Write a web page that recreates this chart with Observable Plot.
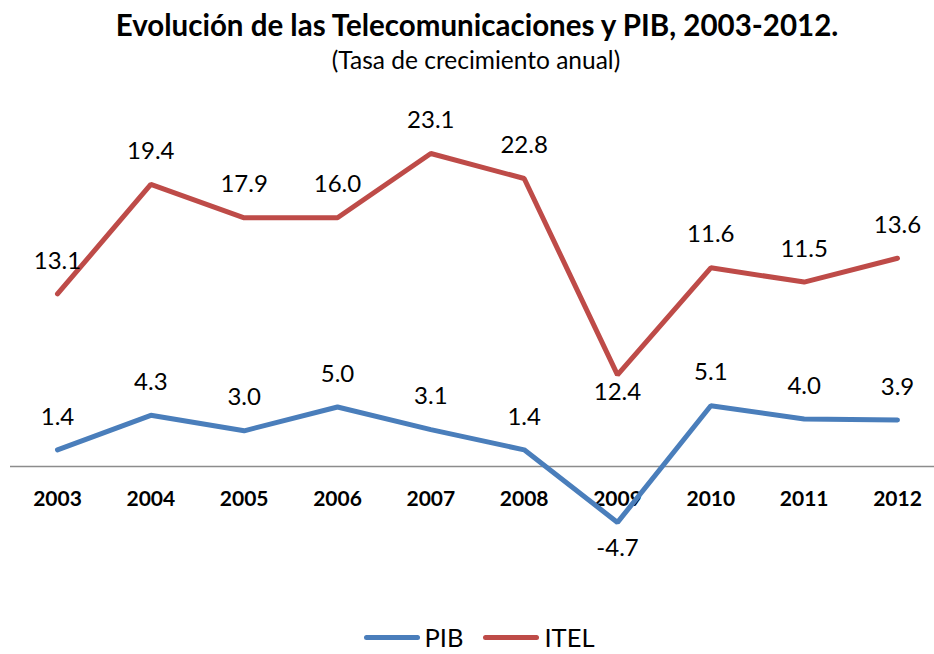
<!DOCTYPE html>
<html><head><meta charset="utf-8">
<script src="https://cdn.jsdelivr.net/npm/d3@7"></script>
<script src="https://cdn.jsdelivr.net/npm/@observablehq/plot@0.6"></script>
<style>
body{margin:0;background:#fff;font-family:Lato,"Open Sans",sans-serif;}
#wrap{position:relative;width:934px;height:654px;}
#title{position:absolute;top:7px;left:0;width:954px;text-align:center;font-weight:bold;font-size:29.5px;color:#000;}
#sub{position:absolute;top:45px;left:0;width:952px;text-align:center;font-size:24.5px;color:#000;}
#chart{position:absolute;top:80px;left:0;}
#legend{position:absolute;top:624px;left:0;width:958px;height:26px;line-height:26px;display:flex;justify-content:center;align-items:center;font-size:25.5px;}
.sw{display:inline-block;width:56px;height:5px;border-radius:3px;margin-right:5px;}
.item{display:flex;align-items:center;margin:0 10px;}
</style></head>
<body>
<div id="wrap">
<div id="title">Evolución de las Telecomunicaciones y PIB, 2003-2012.</div>
<div id="sub">(Tasa de crecimiento anual)</div>
<div id="chart"></div>
<div id="legend"></div>
</div>
<script>
const years = [2003,2004,2005,2006,2007,2008,2009,2010,2011,2012];
const pib = [1.4,4.3,3.0,5.0,3.1,1.4,-4.7,5.1,4.0,3.9];
const pibLabels = ["1.4","4.3","3.0","5.0","3.1","1.4","-4.7","5.1","4.0","3.9"];
// ITEL line as drawn in the reference (positions)
const itel = [14.5,23.7,20.9,20.9,26.3,24.2,7.7,16.7,15.5,17.5];
const itelLabels = ["13.1","19.4","17.9","16.0","23.1","22.8","12.4","11.6","11.5","13.6"];
const seriesNames = ["PIB","ITEL"];
const colors = ["#4A7EBB","#BE4B48"];

const pibData = years.map((y,i)=>({year:y, v:pib[i], label:pibLabels[i], s:"PIB"}));
const itelData = years.map((y,i)=>({year:y, v:itel[i], label:itelLabels[i], s:"ITEL"}));

const font = "Lato, 'Open Sans', sans-serif";
const lblSize = 24;
const chart = Plot.plot({
  width:934, height:520,
  marginLeft:10, marginRight:0, marginTop:0, marginBottom:0,
  style:{fontFamily:font, background:"transparent"},
  x:{type:"linear", domain:[2003,2012], range:[57,897], axis:null},
  y:{domain:[-6,28], range:[457.4,52.8], axis:null},
  marks:[
    Plot.ruleY([0],{stroke:"#8c8c8c", strokeWidth:1.5}),
    Plot.text(years,{x:d=>d, y:0, text:d=>String(d), dy:33, fontWeight:"bold", fontSize:21, fill:"#000"}),
    Plot.line(pibData,{x:"year", y:"v", stroke:colors[0], strokeWidth:5, strokeLinecap:"round", strokeLinejoin:"miter"}),
    Plot.line(itelData,{x:"year", y:"v", stroke:colors[1], strokeWidth:5, strokeLinecap:"round", strokeLinejoin:"miter"}),
    Plot.text(pibData.filter(d=>d.year!==2009),{x:"year", y:"v", text:"label", dy:-33, fontSize:lblSize, fill:"#000"}),
    Plot.text(pibData.filter(d=>d.year===2009),{x:"year", y:"v", text:"label", dy:26, fontSize:lblSize, fill:"#000"}),
    Plot.text(itelData.filter(d=>d.year!==2009),{x:"year", y:"v", text:"label", dy:-33, fontSize:lblSize, fill:"#000"}),
    Plot.text(itelData.filter(d=>d.year===2009),{x:"year", y:"v", text:"label", dy:17, fontSize:lblSize, fill:"#000"})
  ]
});
document.getElementById("chart").appendChild(chart);

const leg = document.getElementById("legend");
seriesNames.forEach((n,i)=>{
  const it = document.createElement("span"); it.className="item";
  const sw = document.createElement("span"); sw.className="sw"; sw.style.background=colors[i];
  it.appendChild(sw); it.appendChild(document.createTextNode(n));
  leg.appendChild(it);
});
</script>
</body></html>
